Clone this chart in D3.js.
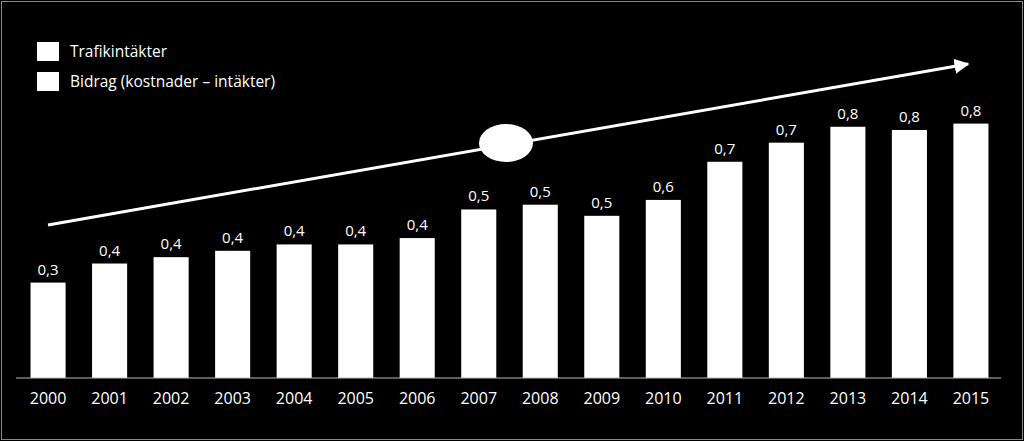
<!DOCTYPE html>
<html><head><meta charset="utf-8">
<script src="https://cdn.jsdelivr.net/npm/d3@7"></script>
<style>body{margin:0;background:#000}text{font-family:"Open Sans",sans-serif}</style>
</head><body><div id="chart"></div>
<script>
const years = ["2000","2001","2002","2003","2004","2005","2006","2007","2008","2009","2010","2011","2012","2013","2014","2015"];
const values = [0.30,0.36,0.38,0.40,0.42,0.42,0.44,0.53,0.545,0.51,0.56,0.68,0.74,0.79,0.78,0.80];
const legendLabels = ["Trafikintäkter","Bidrag (kostnader – intäkter)"];

const width = 1024, height = 441;
const svg = d3.select("#chart").append("svg").attr("width", width).attr("height", height);
svg.append("rect").attr("width", width).attr("height", height).attr("fill", "#000");
svg.append("rect").attr("x", 1.5).attr("y", 1.5).attr("width", width - 3).attr("height", height - 3)
  .attr("fill", "none").attr("stroke", "#888").attr("stroke-width", 1);

const x = d3.scaleBand().domain(years).range([17, 1002]).paddingInner(0.43).paddingOuter(0.22);
const y = d3.scaleLinear().domain([0, 1]).range([378, 60]);

svg.selectAll(".bar").data(values).join("rect")
  .attr("x", (d, i) => x(years[i])).attr("width", x.bandwidth())
  .attr("y", d => y(d)).attr("height", d => y(0) - y(d)).attr("fill", "#fff");

svg.selectAll(".val").data(values).join("text")
  .attr("x", (d, i) => x(years[i]) + x.bandwidth() / 2).attr("y", d => y(d) - 8)
  .attr("text-anchor", "middle").attr("fill", "#fff").attr("font-size", 15)
  .text(d => d3.format(".1f")(d).replace(".", ","));

svg.append("g").attr("transform", "translate(0,378)")
  .call(d3.axisBottom(x).tickSize(0).tickPadding(15))
  .call(g => g.select(".domain").attr("stroke", "#bbb").attr("d", "M16,0H1001"))
  .call(g => g.selectAll("text").attr("fill", "#fff").attr("font-size", 16)
    .style("font-family", "'Open Sans',sans-serif"));

const lg = svg.append("g");
legendLabels.forEach((t, i) => {
  lg.append("rect").attr("x", 37).attr("y", 42 + i * 30).attr("width", 22).attr("height", 19).attr("fill", "#fff");
  lg.append("text").attr("x", 70).attr("y", 57 + i * 30).attr("fill", "#fff").attr("font-size", 15.5).text(t);
});

svg.append("defs").append("marker").attr("id", "ah").attr("viewBox", "0 0 10 10")
  .attr("refX", 9).attr("refY", 5).attr("markerWidth", 5).attr("markerHeight", 5).attr("orient", "auto")
  .append("path").attr("d", "M0,0L10,5L0,10z").attr("fill", "#fff");
svg.append("line").attr("x1", 48).attr("y1", 225).attr("x2", 968).attr("y2", 64)
  .attr("stroke", "#fff").attr("stroke-width", 3).attr("marker-end", "url(#ah)");
svg.append("ellipse").attr("cx", 506).attr("cy", 143).attr("rx", 27).attr("ry", 19).attr("fill", "#fff");
</script></body></html>
